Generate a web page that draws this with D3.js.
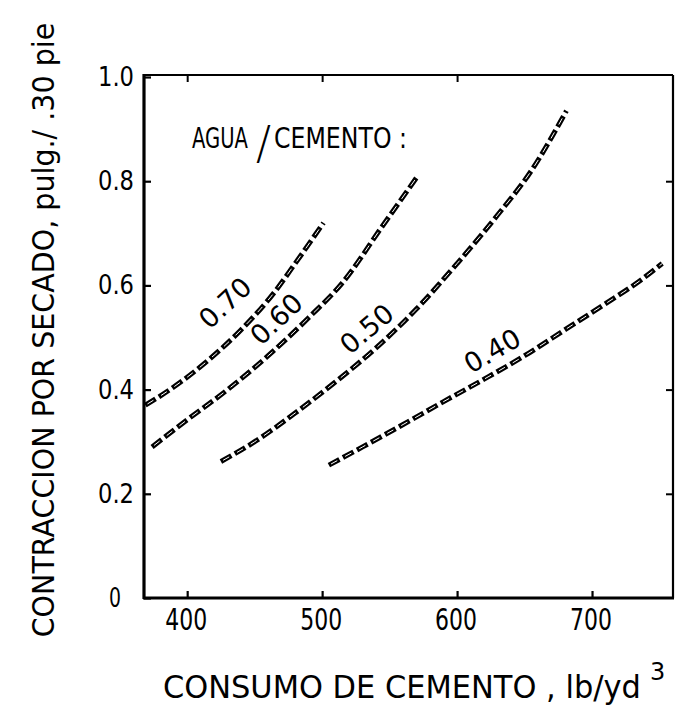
<!DOCTYPE html>
<html><head><meta charset="utf-8">
<script src="https://cdn.jsdelivr.net/npm/d3@7"></script>
<style>
body{margin:0;background:#fff}
svg{display:block}
text{font-family:'DejaVu Sans',sans-serif;fill:#000}
</style>
</head><body>
<svg id="chart" width="675" height="706"></svg>
<script>
// ---- data ----
const ratioLabels = ["0.70", "0.60", "0.50", "0.40"];
const cement070 = [369, 390, 415, 440, 465, 480, 501];
const shrink070 = [0.37, 0.405, 0.455, 0.515, 0.588, 0.642, 0.72];
const cement060 = [374, 400, 430, 460, 490, 515, 545, 570];
const shrink060 = [0.29, 0.342, 0.40, 0.465, 0.538, 0.605, 0.715, 0.807];
const cement050 = [425, 450, 480, 510, 540, 570, 600, 630, 655, 681];
const shrink050 = [0.262, 0.30, 0.355, 0.415, 0.48, 0.555, 0.642, 0.735, 0.82, 0.935];
const cement040 = [505, 530, 560, 590, 620, 650, 680, 710, 735, 752];
const shrink040 = [0.255, 0.29, 0.333, 0.377, 0.42, 0.465, 0.515, 0.565, 0.608, 0.642];
const xTickValues = [400, 500, 600, 700];
const xTickLabels = ["400", "500", "600", "700"];
const yTickValues = [0, 0.2, 0.4, 0.6, 0.8, 1.0];
const yTickLabels = ["0", "0.2", "0.4", "0.6", "0.8", "1.0"];
const labelCement = [428, 466, 533, 626];
const labelShrink = [0.567, 0.536, 0.517, 0.475];
const xTitle = "CONSUMO DE CEMENTO , lb/yd";
const xTitleSup = "3";
const yTitle = "CONTRACCION POR SECADO, pulg./ .30 pie";
const legendTitle = ["AGUA", "/", "CEMENTO :"];

const seriesCement = [cement070, cement060, cement050, cement040];
const seriesShrink = [shrink070, shrink060, shrink050, shrink040];

// ---- layout ----
const L = 144, R = 673, T = 75, B = 598;
const x = d3.scaleLinear().domain([368, 760]).range([L, R]);
const y = d3.scaleLinear().domain([0, 1]).range([B, 77]);

const svg = d3.select("#chart");

// place a text at (px,py) squeezed horizontally to a target width (via transform, keeps bbox honest)
function fitText(txt, px, py, size, width, anchor, rot) {
  const t = svg.append("text").attr("font-size", size).attr("text-anchor", anchor || "start").text(txt);
  const w = t.node().getComputedTextLength();
  const s = Math.min(1.3, width / w);
  t.attr("transform", `translate(${px},${py}) rotate(${rot || 0}) scale(${s},1)`);
  return t;
}

// axes (ticks pointing inward)
const gL = svg.append("g").attr("transform", `translate(${L},0)`)
  .call(d3.axisLeft(y).tickValues(yTickValues).tickSizeInner(-7).tickSizeOuter(0).tickFormat(""));
gL.select(".domain").remove();
gL.selectAll(".tick line").attr("stroke", "#000").attr("stroke-width", 2.2);
yTickValues.forEach((v, i) => {
  if (i === 0) fitText(yTickLabels[i], 115, y(v) + 9, 26, 12, "middle");
  else fitText(yTickLabels[i], 134, y(v) + 9, 26, 36, "end");
});

const gB = svg.append("g").attr("transform", `translate(0,${B})`)
  .call(d3.axisBottom(x).tickValues(xTickValues).tickSizeInner(-7).tickSizeOuter(0).tickFormat(""));
gB.select(".domain").remove();
gB.selectAll(".tick line").attr("stroke", "#000").attr("stroke-width", 2.2);
xTickValues.forEach((v, i) => fitText(xTickLabels[i], x(v) - 1, 630, 30, 42, "middle"));

const gR = svg.append("g").attr("transform", `translate(${R},0)`)
  .call(d3.axisRight(y).tickValues(yTickValues.slice(1, 5)).tickSizeInner(-7).tickSizeOuter(0).tickFormat(""));
gR.select(".domain").remove();
gR.selectAll(".tick line").attr("stroke", "#000").attr("stroke-width", 2);

const gT = svg.append("g").attr("transform", `translate(0,${T})`)
  .call(d3.axisTop(x).tickValues(xTickValues.slice(0, 3)).tickSizeInner(-7).tickSizeOuter(0).tickFormat(""));
gT.select(".domain").remove();
gT.selectAll(".tick line").attr("stroke", "#000").attr("stroke-width", 2);

// frame
svg.append("line").attr("x1", L).attr("x2", L).attr("y1", T - 1).attr("y2", B + 1).attr("stroke", "#000").attr("stroke-width", 3.2);
svg.append("line").attr("x1", L - 1).attr("x2", R + 1).attr("y1", B).attr("y2", B).attr("stroke", "#000").attr("stroke-width", 3.2);
svg.append("line").attr("x1", L).attr("x2", R).attr("y1", T).attr("y2", T).attr("stroke", "#000").attr("stroke-width", 2.2);
svg.append("line").attr("x1", R).attr("x2", R).attr("y1", T).attr("y2", B).attr("stroke", "#000").attr("stroke-width", 2.2);

// curves
const line = d3.line().x(d => x(d[0])).y(d => y(d[1])).curve(d3.curveMonotoneX);
seriesCement.forEach((cs, k) => {
  const pts = cs.map((c, i) => [c, seriesShrink[k][i]]);
  svg.append("path").attr("d", line(pts)).attr("fill", "none").attr("stroke", "#000")
    .attr("stroke-width", 5).attr("stroke-dasharray", "12 4");
  svg.append("path").attr("d", line(pts)).attr("fill", "none").attr("stroke", "#fff")
    .attr("stroke-width", 1).attr("stroke-dasharray", "7 9").attr("stroke-dashoffset", -2.5);
});

// curve labels, rotated along local slope
ratioLabels.forEach((lab, k) => {
  const cs = seriesCement[k], ss = seriesShrink[k];
  const c = labelCement[k];
  let i = d3.bisectLeft(cs, c); i = Math.max(1, Math.min(cs.length - 1, i));
  const ang = Math.atan2(y(ss[i]) - y(ss[i - 1]), x(cs[i]) - x(cs[i - 1])) * 180 / Math.PI;
  svg.append("text").attr("transform", `translate(${x(c)},${y(labelShrink[k])}) rotate(${ang})`)
    .attr("text-anchor", "middle").attr("dy", "0.36em").attr("font-size", 27).text(lab);
});

// legend title
fitText(legendTitle[0], 192, 148, 28, 56, "start");
fitText(legendTitle[1], 256, 159, 46, 15, "start").attr("font-weight", 200);
fitText(legendTitle[2], 274, 148, 28, 133, "start");

// axis titles
fitText(xTitle, 163, 698, 32, 478, "start");
svg.append("text").attr("x", 650).attr("y", 680).attr("font-size", 24).text(xTitleSup);

fitText(yTitle, 54, 330, 31, 615, "middle", -90);
</script>
</body></html>
